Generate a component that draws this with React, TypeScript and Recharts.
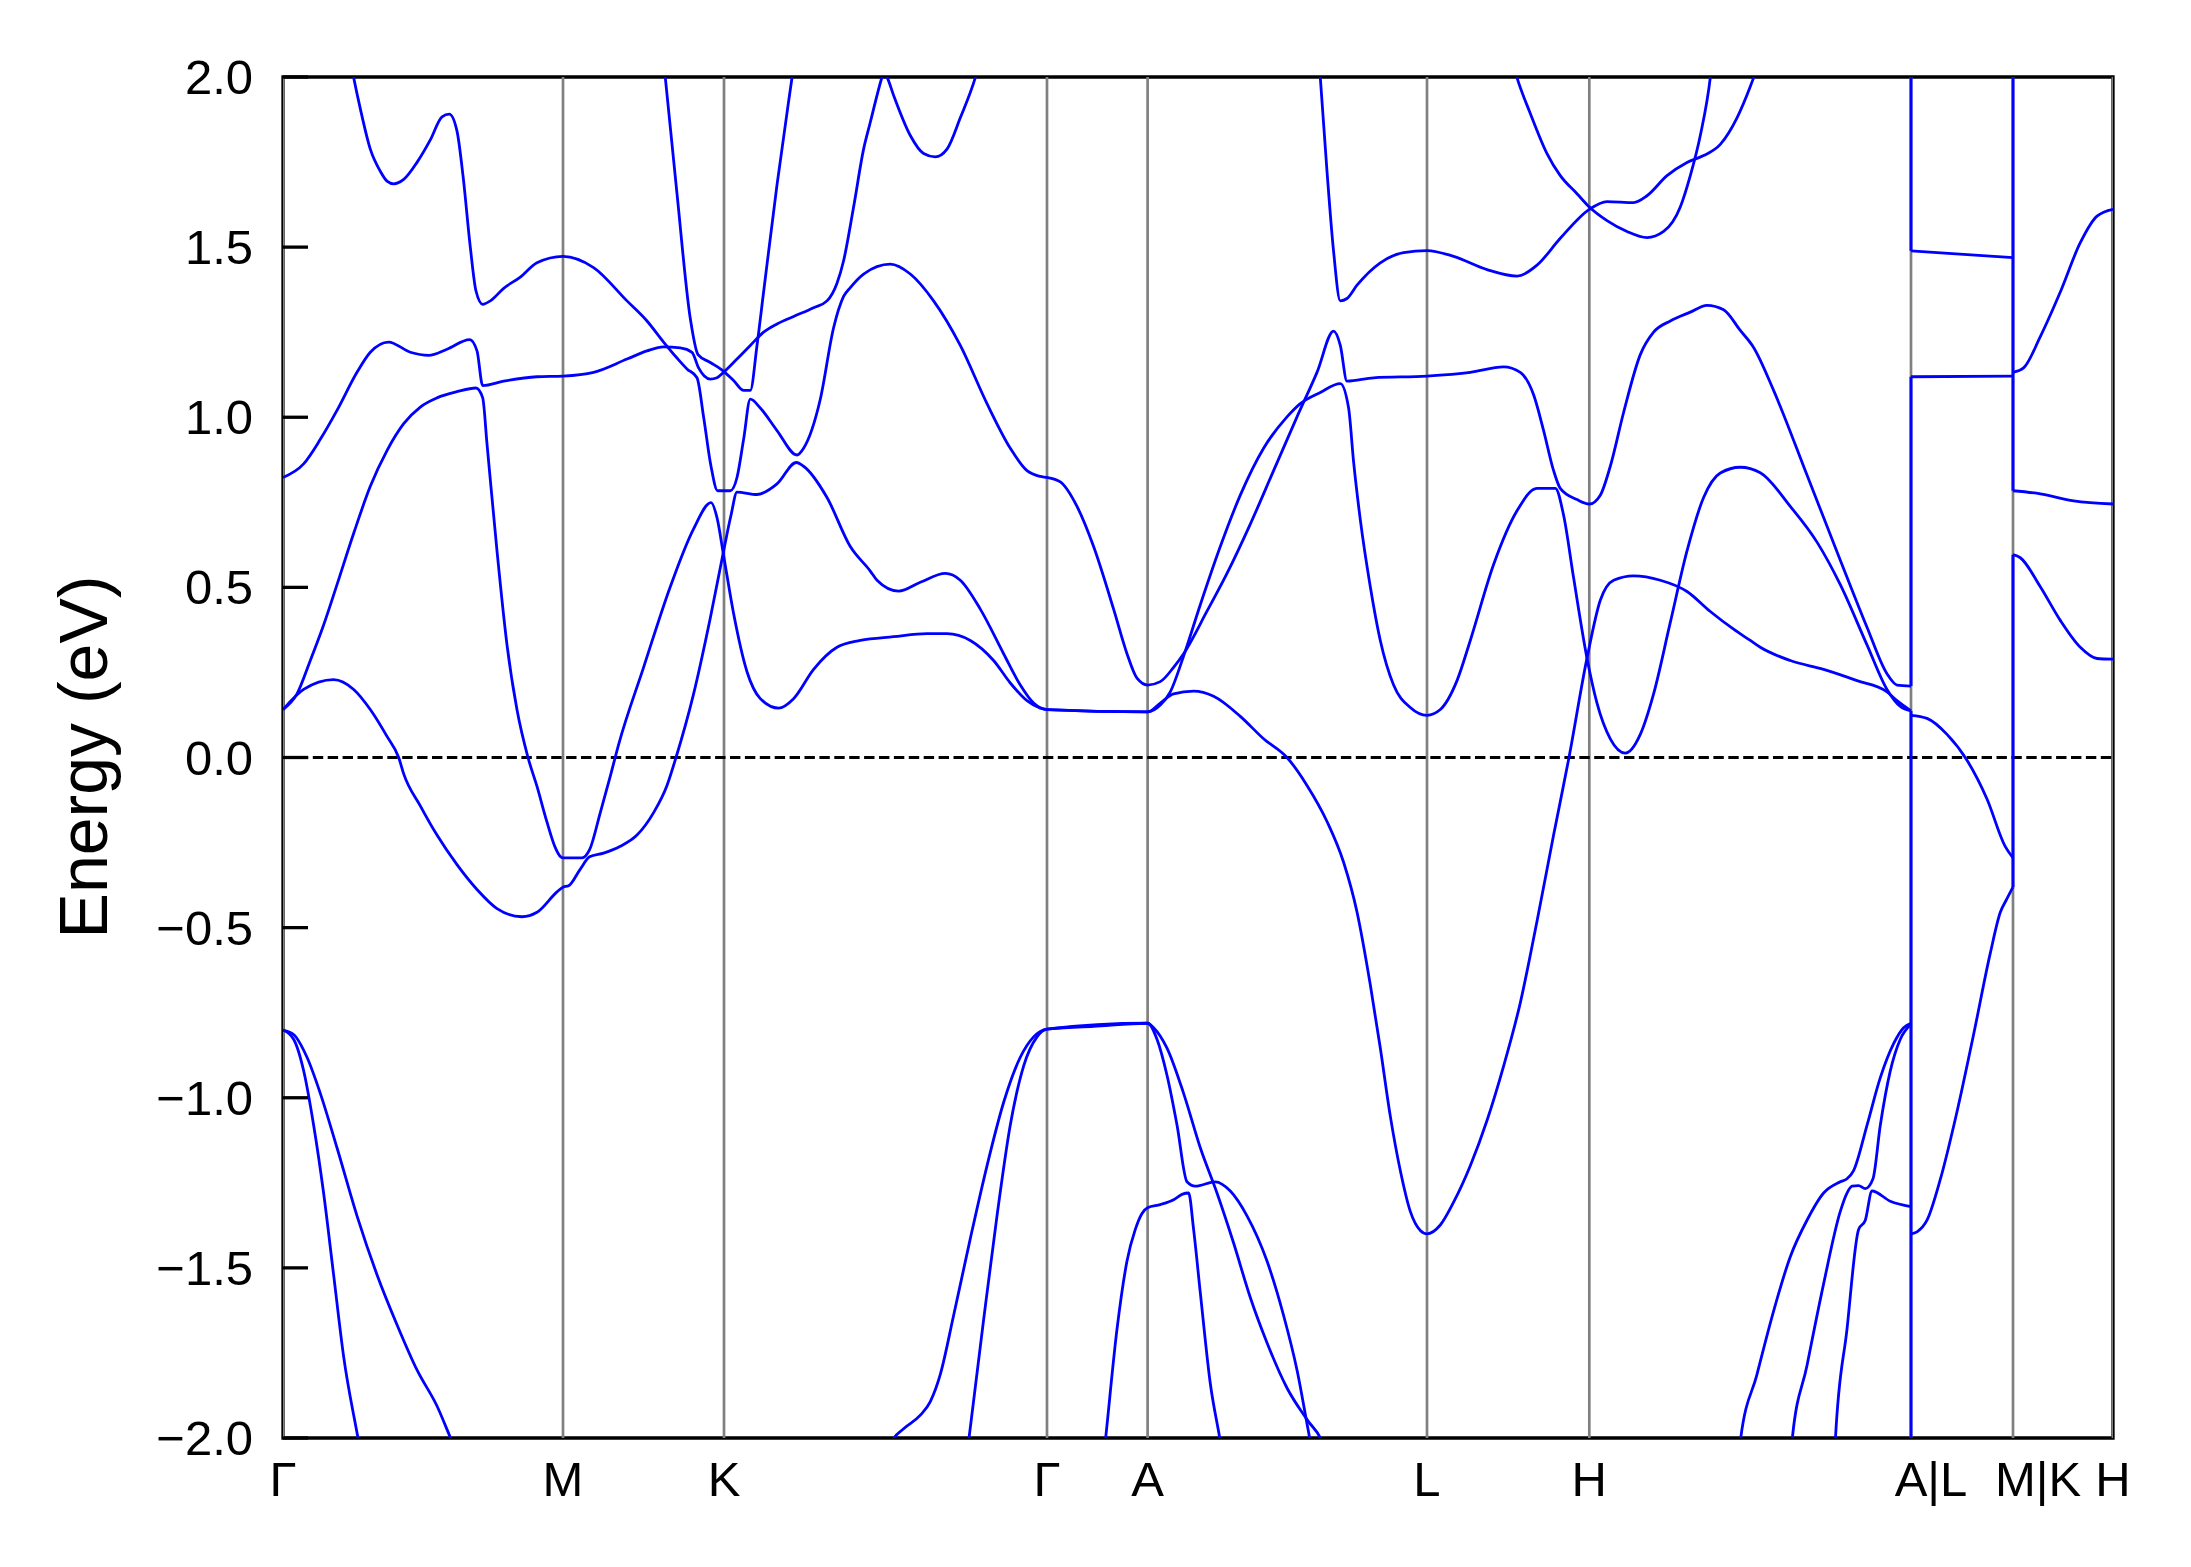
import React from "react";
import { LineChart, Line, XAxis, YAxis, ReferenceArea } from "recharts";

const FONT = '"Liberation Sans", Arial, Helvetica, sans-serif';
const PLOT_LEFT = 283;
const K_MAX = 18.3;

// high-symmetry points along the k-path
const kTicks = [0, 2.8, 4.41, 7.64, 8.646, 11.44, 13.063, 16.28, 17.3, 18.3];
const kLabels = ["Γ", "M", "K", "Γ", "A", "L", "H", "A|L", "M|K", "H"];
const eTicks = [-2, -1.5, -1, -0.5, 0, 0.5, 1, 1.5, 2];

type P = [number, number];

// conduction-side bands, [k, E(eV)]
const band1: P[] = [
  [0.673, 2.05], [0.707, 1.998], [0.773, 1.907], [0.873, 1.788], [0.973, 1.723], [1.04, 1.694],
  [1.107, 1.686], [1.207, 1.699], [1.34, 1.749], [1.473, 1.815], [1.59, 1.883], [1.663, 1.891],
  [1.74, 1.841], [1.8, 1.71], [1.873, 1.5], [1.93, 1.371], [1.997, 1.332], [2.073, 1.342],
  [2.207, 1.379], [2.373, 1.412], [2.54, 1.454], [2.8, 1.473], [3.106, 1.44], [3.44, 1.342],
  [3.64, 1.283], [3.806, 1.221], [3.94, 1.174], [4.04, 1.142], [4.14, 1.116], [4.206, 1.001],
  [4.28, 0.856], [4.346, 0.784], [4.473, 0.784], [4.54, 0.823], [4.606, 0.935], [4.673, 1.053],
  [4.773, 1.027], [4.94, 0.961], [5.14, 0.889], [5.206, 0.909], [5.373, 1.053], [5.506, 1.263],
  [5.606, 1.355], [5.673, 1.381], [5.806, 1.421], [6.073, 1.45], [6.273, 1.421], [6.506, 1.342],
  [6.773, 1.211], [7.04, 1.04], [7.273, 0.909], [7.44, 0.843], [7.573, 0.826], [7.64, 0.823],
  [7.773, 0.81], [7.94, 0.738], [8.106, 0.62], [8.306, 0.436], [8.44, 0.305], [8.54, 0.233],
  [8.646, 0.213], [8.773, 0.223], [8.906, 0.265], [9.006, 0.305], [9.24, 0.43], [9.44, 0.541],
  [9.673, 0.686], [9.906, 0.843], [10.14, 1.001], [10.34, 1.132], [10.506, 1.253], [10.573, 1.211],
  [10.64, 1.106], [10.906, 1.116], [11.44, 1.121], [11.873, 1.132], [12.206, 1.148], [12.373, 1.132],
  [12.506, 1.066], [12.606, 0.961], [12.706, 0.843], [12.773, 0.791], [12.94, 0.758], [13.063, 0.745],
  [13.173, 0.771], [13.273, 0.856], [13.406, 1.014], [13.573, 1.184], [13.706, 1.25], [13.873, 1.283],
  [14.073, 1.309], [14.24, 1.329], [14.406, 1.316], [14.573, 1.255], [14.706, 1.205], [14.906, 1.079],
  [15.24, 0.83], [15.573, 0.58], [15.84, 0.383], [16.04, 0.246], [16.14, 0.213], [16.28, 0.21],
];

const band2: P[] = [
  [0, 0.823], [0.206, 0.863], [0.373, 0.935], [0.54, 1.02], [0.74, 1.132], [0.873, 1.191],
  [1.056, 1.221], [1.273, 1.191], [1.457, 1.182], [1.64, 1.2], [1.867, 1.228], [1.94, 1.195],
  [1.997, 1.093], [2.207, 1.106], [2.54, 1.119], [2.8, 1.121], [3.106, 1.132], [3.44, 1.171],
  [3.64, 1.195], [3.806, 1.207], [3.973, 1.204], [4.09, 1.191], [4.156, 1.145], [4.213, 1.121],
  [4.273, 1.112], [4.34, 1.116], [4.406, 1.132], [4.54, 1.171], [4.673, 1.211], [4.806, 1.25],
  [4.94, 1.274], [5.106, 1.296], [5.306, 1.322], [5.44, 1.342], [5.54, 1.394], [5.606, 1.46],
  [5.706, 1.618], [5.806, 1.788], [5.873, 1.867], [5.99, 2.0], [6.006, 2.015], [6.04, 2.0],
  [6.106, 1.946], [6.273, 1.828], [6.406, 1.775], [6.523, 1.765], [6.64, 1.788], [6.773, 1.88],
  [6.923, 1.998], [6.973, 2.05],
];

const band3: P[] = [
  [3.78, 2.13], [3.823, 1.998], [3.94, 1.657], [4.073, 1.29], [4.15, 1.184], [4.273, 1.161],
  [4.406, 1.135], [4.506, 1.108], [4.606, 1.079], [4.673, 1.079], [4.74, 1.211], [4.806, 1.368],
  [4.94, 1.683], [5.09, 1.998], [5.12, 2.06],
];

const band4: P[] = [
  [0, 0.141], [0.14, 0.187], [0.273, 0.285], [0.407, 0.39], [0.54, 0.508], [0.707, 0.659],
  [0.873, 0.797], [1.04, 0.902], [1.207, 0.981], [1.373, 1.03], [1.54, 1.057], [1.74, 1.075],
  [1.93, 1.086], [1.997, 1.057], [2.04, 0.922], [2.14, 0.607], [2.24, 0.331], [2.34, 0.14],
  [2.45, 0.0], [2.54, -0.085], [2.64, -0.19], [2.723, -0.265], [2.77, -0.29], [2.8, -0.295],
  [2.99, -0.295], [3.066, -0.271], [3.173, -0.162], [3.273, -0.055], [3.356, 0.038], [3.606, 0.265],
  [3.873, 0.502], [4.106, 0.672], [4.28, 0.749], [4.34, 0.705], [4.406, 0.594], [4.506, 0.423],
  [4.64, 0.252], [4.773, 0.173], [4.956, 0.145], [5.106, 0.173], [5.306, 0.259], [5.54, 0.324],
  [5.773, 0.344], [6.106, 0.355], [6.44, 0.364], [6.64, 0.364], [6.873, 0.344], [7.106, 0.285],
  [7.273, 0.219], [7.44, 0.167], [7.573, 0.145], [7.64, 0.141], [8.646, 0.134], [8.773, 0.154],
  [8.873, 0.193], [9.006, 0.298], [9.173, 0.449], [9.373, 0.62], [9.573, 0.771], [9.806, 0.909],
  [10.04, 1.001], [10.173, 1.04], [10.373, 1.073], [10.573, 1.099], [10.656, 1.027], [10.706, 0.869],
  [10.773, 0.699], [10.873, 0.502], [10.973, 0.344], [11.106, 0.213], [11.273, 0.147], [11.44, 0.124],
  [11.573, 0.141], [11.74, 0.226], [11.873, 0.344], [12.106, 0.567], [12.34, 0.725], [12.54, 0.791],
  [12.723, 0.791], [12.806, 0.712], [12.906, 0.528], [13.04, 0.292], [13.14, 0.16], [13.273, 0.055],
  [13.423, 0.013], [13.573, 0.068], [13.706, 0.187], [13.873, 0.397], [14.04, 0.607], [14.206, 0.764],
  [14.373, 0.836], [14.573, 0.853], [14.773, 0.837], [15.073, 0.738], [15.34, 0.633], [15.573, 0.508],
  [15.84, 0.331], [16.04, 0.2], [16.173, 0.15], [16.28, 0.137],
];

const band5: P[] = [
  [0, 0.141], [0.206, 0.2], [0.506, 0.229], [0.707, 0.2], [0.873, 0.141], [1.04, 0.062],
  [1.157, 0.0], [1.207, -0.048], [1.373, -0.142], [1.54, -0.228], [1.74, -0.315], [1.94, -0.388],
  [2.14, -0.444], [2.39, -0.468], [2.54, -0.455], [2.74, -0.395], [2.8, -0.381], [2.856, -0.377],
  [2.973, -0.328], [3.066, -0.292], [3.206, -0.281], [3.373, -0.261], [3.54, -0.228], [3.706, -0.162],
  [3.84, -0.082], [3.93, 0.0], [4.106, 0.187], [4.273, 0.41], [4.406, 0.607], [4.48, 0.712],
  [4.54, 0.78], [4.74, 0.773], [4.94, 0.804], [5.133, 0.867], [5.206, 0.856], [5.44, 0.764],
  [5.673, 0.62], [5.873, 0.548], [5.94, 0.521], [6.156, 0.489], [6.373, 0.515], [6.623, 0.541],
  [6.773, 0.521], [6.973, 0.436], [7.206, 0.305], [7.373, 0.213], [7.506, 0.16], [7.64, 0.141],
  [8.646, 0.134], [8.773, 0.16], [8.906, 0.187], [9.106, 0.195], [9.306, 0.18], [9.573, 0.121],
  [9.806, 0.055], [10.04, 0.0], [10.24, -0.082], [10.44, -0.188], [10.606, -0.308], [10.74, -0.454],
  [10.873, -0.668], [10.973, -0.854], [11.073, -1.054], [11.173, -1.214], [11.273, -1.334],
  [11.373, -1.39], [11.44, -1.4], [11.573, -1.374], [11.706, -1.307], [11.873, -1.2], [12.04, -1.067],
  [12.206, -0.907], [12.373, -0.721], [12.54, -0.481], [12.706, -0.228], [12.86, 0.0], [13.04, 0.292],
  [13.173, 0.462], [13.306, 0.521], [13.506, 0.534], [13.773, 0.521], [14.04, 0.488], [14.273, 0.429],
  [14.506, 0.377], [14.673, 0.344], [14.773, 0.324], [15.073, 0.285], [15.406, 0.259], [15.74, 0.226],
  [16.04, 0.193], [16.14, 0.167], [16.28, 0.137],
];

const band6: P[] = [
  [10.356, 2.077], [10.373, 1.998], [10.44, 1.723], [10.506, 1.487], [10.573, 1.342], [10.64, 1.349],
  [10.74, 1.388], [10.973, 1.454], [11.206, 1.484], [11.44, 1.49], [11.706, 1.473], [12.04, 1.434],
  [12.34, 1.415], [12.54, 1.447], [12.773, 1.526], [13.063, 1.611], [13.24, 1.634], [13.506, 1.631],
  [13.64, 1.651], [13.84, 1.71], [14.04, 1.749], [14.206, 1.769], [14.373, 1.802], [14.54, 1.88],
  [14.673, 1.972], [14.706, 1.998], [14.773, 2.05],
];

const band7: P[] = [
  [12.29, 2.05], [12.34, 1.998], [12.473, 1.893], [12.64, 1.775], [12.773, 1.71], [12.94, 1.657],
  [13.063, 1.618], [13.24, 1.578], [13.44, 1.546], [13.64, 1.528], [13.806, 1.546], [13.973, 1.618],
  [14.073, 1.71], [14.173, 1.828], [14.273, 1.998], [14.293, 2.05],
];

// valence bands
const val1: P[] = [
  [0, -0.801], [0.106, -0.828], [0.206, -0.92], [0.306, -1.08], [0.406, -1.28], [0.506, -1.52],
  [0.606, -1.76], [0.756, -2.01], [0.81, -2.1],
];
const val2: P[] = [
  [0, -0.801], [0.106, -0.814], [0.24, -0.881], [0.373, -0.987], [0.54, -1.147], [0.74, -1.347],
  [0.94, -1.52], [1.14, -1.667], [1.34, -1.8], [1.54, -1.906], [1.69, -2.01], [1.75, -2.05],
];
const val3: P[] = [
  [6.05, -2.05], [6.09, -2.01], [6.206, -1.973], [6.373, -1.933], [6.473, -1.893], [6.573, -1.813],
  [6.706, -1.64], [6.873, -1.414], [7.04, -1.2], [7.206, -1.014], [7.373, -0.881], [7.506, -0.821],
  [7.64, -0.798], [8.106, -0.79], [8.646, -0.781], [8.706, -0.794], [8.84, -0.854], [9.006, -0.987],
  [9.173, -1.147], [9.34, -1.28], [9.506, -1.427], [9.673, -1.587], [9.84, -1.72], [10.04, -1.853],
  [10.24, -1.946], [10.39, -2.01], [10.44, -2.05],
];
const val4: P[] = [
  [6.82, -2.1], [6.856, -2.01], [7.006, -1.653], [7.14, -1.347], [7.273, -1.08], [7.406, -0.907],
  [7.54, -0.821], [7.64, -0.798], [8.646, -0.781], [8.74, -0.828], [8.84, -0.934], [8.94, -1.08],
  [9.04, -1.247], [9.123, -1.26], [9.323, -1.247], [9.473, -1.274], [9.64, -1.347], [9.84, -1.48],
  [10.006, -1.64], [10.14, -1.8], [10.273, -2.01], [10.3, -2.05],
];
const val5: P[] = [
  [8.19, -2.1], [8.223, -2.01], [8.34, -1.68], [8.44, -1.48], [8.523, -1.387], [8.59, -1.34],
  [8.646, -1.323], [8.773, -1.314], [8.906, -1.3], [8.99, -1.284], [9.056, -1.28], [9.106, -1.387],
  [9.173, -1.573], [9.273, -1.84], [9.373, -2.01], [9.4, -2.06],
];
const val6: P[] = [
  [14.56, -2.05], [14.573, -2.01], [14.74, -1.813], [14.906, -1.627], [15.073, -1.467], [15.24, -1.36],
  [15.406, -1.28], [15.573, -1.247], [15.64, -1.238], [15.706, -1.214], [15.84, -1.081], [15.973, -0.941],
  [16.106, -0.841], [16.206, -0.794], [16.28, -0.781],
];
const val7: P[] = [
  [15.08, -2.05], [15.09, -2.01], [15.24, -1.787], [15.406, -1.547], [15.573, -1.334], [15.64, -1.28],
  [15.69, -1.26], [15.756, -1.258], [15.823, -1.267], [15.9, -1.238], [15.973, -1.081], [16.073, -0.921],
  [16.173, -0.828], [16.28, -0.784],
];
const val8: P[] = [
  [15.52, -2.05], [15.523, -2.01], [15.64, -1.68], [15.756, -1.387], [15.823, -1.36], [15.89, -1.274],
  [16.073, -1.304], [16.28, -1.32],
];

// A|L -> M|K
const segAM1: P[] = [[16.28, 1.489], [17.3, 1.469]];
const segAM2: P[] = [[16.28, 1.119], [17.3, 1.121]];
const segAM3: P[] = [
  [16.28, 0.124], [16.44, 0.115], [16.64, 0.068], [16.84, -0.008], [17.04, -0.122], [17.223, -0.262],
  [17.3, -0.295],
];
const segAM4: P[] = [
  [16.28, -1.4], [16.34, -1.394], [16.44, -1.36], [16.573, -1.24], [16.74, -1.041], [16.906, -0.814],
  [17.073, -0.575], [17.173, -0.455], [17.24, -0.415], [17.3, -0.381],
];

// M|K -> H
const segKH1: P[] = [
  [17.3, 1.132], [17.406, 1.145], [17.573, 1.237], [17.773, 1.368], [17.973, 1.513], [18.14, 1.591],
  [18.3, 1.611],
];
const segKH2: P[] = [[17.3, 0.784], [17.573, 0.775], [17.906, 0.754], [18.3, 0.745]];
const segKH3: P[] = [
  [17.3, 0.596], [17.373, 0.587], [17.573, 0.502], [17.773, 0.403], [17.973, 0.324], [18.14, 0.291],
  [18.3, 0.289],
];

// jumps at the path breaks
const jumps: P[][] = [
  [[16.28, 2.05], [16.28, 1.489]],
  [[16.28, 1.119], [16.28, 0.21]],
  [[16.28, 0.137], [16.28, -2.05]],
  [[17.3, 2.05], [17.3, 0.784]],
  [[17.3, 0.596], [17.3, -0.381]],
];

const bands: P[][] = [
  band1, band2, band3, band4, band5, band6, band7,
  val1, val2, val3, val4, val5, val6, val7, val8,
  segAM1, segAM2, segAM3, segAM4, segKH1, segKH2, segKH3,
];

const toPts = (arr: P[]) => arr.map(([k, E]) => ({ k, E }));

function YTick(props: any) {
  const { y, payload } = props;
  const v = payload.value as number;
  const label = (v < 0 ? "\u2212" : "") + Math.abs(v).toFixed(1);
  return (
    <g>
      <line x1={PLOT_LEFT} x2={PLOT_LEFT + 25} y1={y} y2={y} stroke="#000" strokeWidth={3.3} />
      <text x={PLOT_LEFT - 30} y={y} textAnchor="end" dominantBaseline="central"
        fontSize={49} fontFamily={FONT} fill="#000">{label}</text>
    </g>
  );
}

function XTick(props: any) {
  const { x, payload } = props;
  const i = kTicks.indexOf(payload.value);
  const label = kLabels[i];
  // the two combined labels sit a little right of their line in the original
  const dx = label === "A|L" ? 20 : label === "M|K" ? 25 : 0;
  return (
    <text x={x + dx} y={1479} textAnchor="middle" dominantBaseline="central"
      fontSize={49} fontFamily={FONT} fill="#000">{label}</text>
  );
}

const yLabel = () => (
  <text x={83} y={757} transform="rotate(-90 83 757)" textAnchor="middle"
    dominantBaseline="central" fontSize={68} fontFamily={FONT} fill="#000">
    Energy (eV)
  </text>
);

export default function App() {
  return (
    <div style={{ position: "absolute", left: 0, top: 0, background: "#fff" }}>
      <LineChart width={2191} height={1567} margin={{ top: 77, right: 78, left: 183, bottom: 49 }}>
        <XAxis type="number" dataKey="k" domain={[0, K_MAX]} ticks={kTicks} interval={0}
          allowDataOverflow tick={<XTick />} tickLine={false} axisLine={false} height={80} />
        <YAxis type="number" domain={[-2, 2]} ticks={eTicks} interval={0} allowDataOverflow
          tick={<YTick />} tickLine={false} axisLine={false} width={100} label={yLabel} />

        {kTicks.map((t) => (
          <Line key={"v" + t} data={[{ k: t, E: -2 }, { k: t, E: 2 }]} dataKey="E" type="linear"
            stroke="#808080" strokeWidth={2.7} dot={false} activeDot={false} isAnimationActive={false} />
        ))}
        <Line data={[{ k: 0, E: 0 }, { k: K_MAX, E: 0 }]} dataKey="E" type="linear" stroke="#000"
          strokeWidth={2.8} strokeDasharray="10.4 4.5" dot={false} activeDot={false} isAnimationActive={false} />

        {bands.map((b, i) => (
          <Line key={"b" + i} data={toPts(b)} dataKey="E" type="monotone" stroke="#0000ff"
            strokeWidth={2.8} dot={false} activeDot={false} isAnimationActive={false} />
        ))}
        {jumps.map((b, i) => (
          <Line key={"j" + i} data={toPts(b)} dataKey="E" type="linear" stroke="#0000ff"
            strokeWidth={3} dot={false} activeDot={false} isAnimationActive={false} />
        ))}

        <ReferenceArea x1={0} x2={K_MAX} y1={-2} y2={2} fill="none" stroke="#000"
          strokeWidth={3.3} ifOverflow="visible" />
      </LineChart>
    </div>
  );
}
